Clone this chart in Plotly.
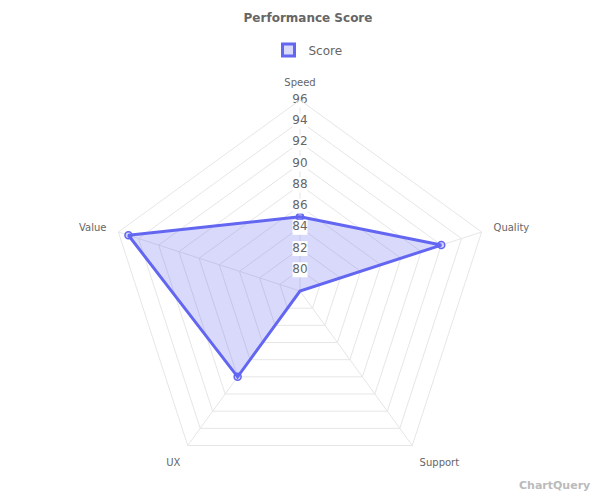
import plotly.graph_objects as go

categories = ["Speed", "Quality", "Support", "UX", "Value"]
scores = [85, 92, 78, 88, 95]
tick_values = [80, 82, 84, 86, 88, 90, 92, 94, 96]
tick_labels = [str(v) for v in tick_values]
series_name = "Score"
title_text = "Performance Score"

line_color = "#6366f1"
fill_color = "rgba(99,102,241,0.25)"
grid_color = "#e6e6e6"
text_color = "#666666"
font_family = "DejaVu Sans"

fig = go.Figure()

fig.add_trace(go.Scatterpolar(
    r=scores + [scores[0]],
    theta=categories + [categories[0]],
    mode="lines+markers",
    fill="toself",
    fillcolor=fill_color,
    line=dict(color=line_color, width=3),
    marker=dict(size=7, color=fill_color, line=dict(color=line_color, width=1.5)),
    name=series_name,
    showlegend=False,
    hoverinfo="skip",
))

# legend-only entry (box style)
fig.add_trace(go.Barpolar(
    r=[None],
    theta=[categories[0]],
    name=series_name,
    marker=dict(color=fill_color, line=dict(color=line_color, width=3)),
    showlegend=True,
    hoverinfo="skip",
))

# tick labels with white backdrop (along the first axis)
fig.add_trace(go.Scatterpolar(
    r=tick_values,
    theta=[categories[0]] * len(tick_values),
    mode="markers+text",
    marker=dict(symbol="square", size=15, color="white"),
    text=tick_labels,
    textposition="middle center",
    textfont=dict(family=font_family, size=12, color=text_color),
    showlegend=False,
    hoverinfo="skip",
))

cx, cy, R = 292, 283, 191

fig.update_layout(
    width=600,
    height=500,
    paper_bgcolor="white",
    plot_bgcolor="white",
    margin=dict(l=0, r=0, t=0, b=0),
    font=dict(family=font_family, color=text_color),
    title=dict(
        text="<b>" + title_text + "</b>",
        x=0.5, xanchor="center",
        y=1 - 10 / 500, yanchor="middle",
        font=dict(family=font_family, size=12, color=text_color),
    ),
    showlegend=True,
    legend=dict(
        orientation="h",
        x=0.5, xanchor="center",
        y=1 - 42 / 500, yanchor="middle",
        font=dict(family=font_family, size=12, color=text_color),
        bgcolor="rgba(0,0,0,0)",
    ),
    polar=dict(
        bgcolor="white",
        gridshape="linear",
        domain=dict(x=[(cx - R) / 600, (cx + R) / 600],
                    y=[1 - (cy + R) / 500, 1 - (cy - R) / 500]),
        radialaxis=dict(
            range=[78, 96],
            tickvals=tick_values,
            showticklabels=False,
            ticks="",
            showline=False,
            gridcolor=grid_color,
            gridwidth=1,
        ),
        angularaxis=dict(
            categoryorder="array",
            categoryarray=categories,
            rotation=90,
            direction="clockwise",
            ticks="outside",
            ticklen=10,
            tickcolor="rgba(0,0,0,0)",
            showline=True,
            linecolor=grid_color,
            gridcolor=grid_color,
            tickfont=dict(family=font_family, size=10, color=text_color),
        ),
    ),
    annotations=[dict(
        text="<b>ChartQuery</b>",
        xref="paper", yref="paper",
        x=584 / 600, xanchor="right",
        y=1 - 477 / 500, yanchor="middle",
        showarrow=False,
        font=dict(family=font_family, size=11, color="#bbbbbb"),
    )],
)

fig.write_html("out.html")
